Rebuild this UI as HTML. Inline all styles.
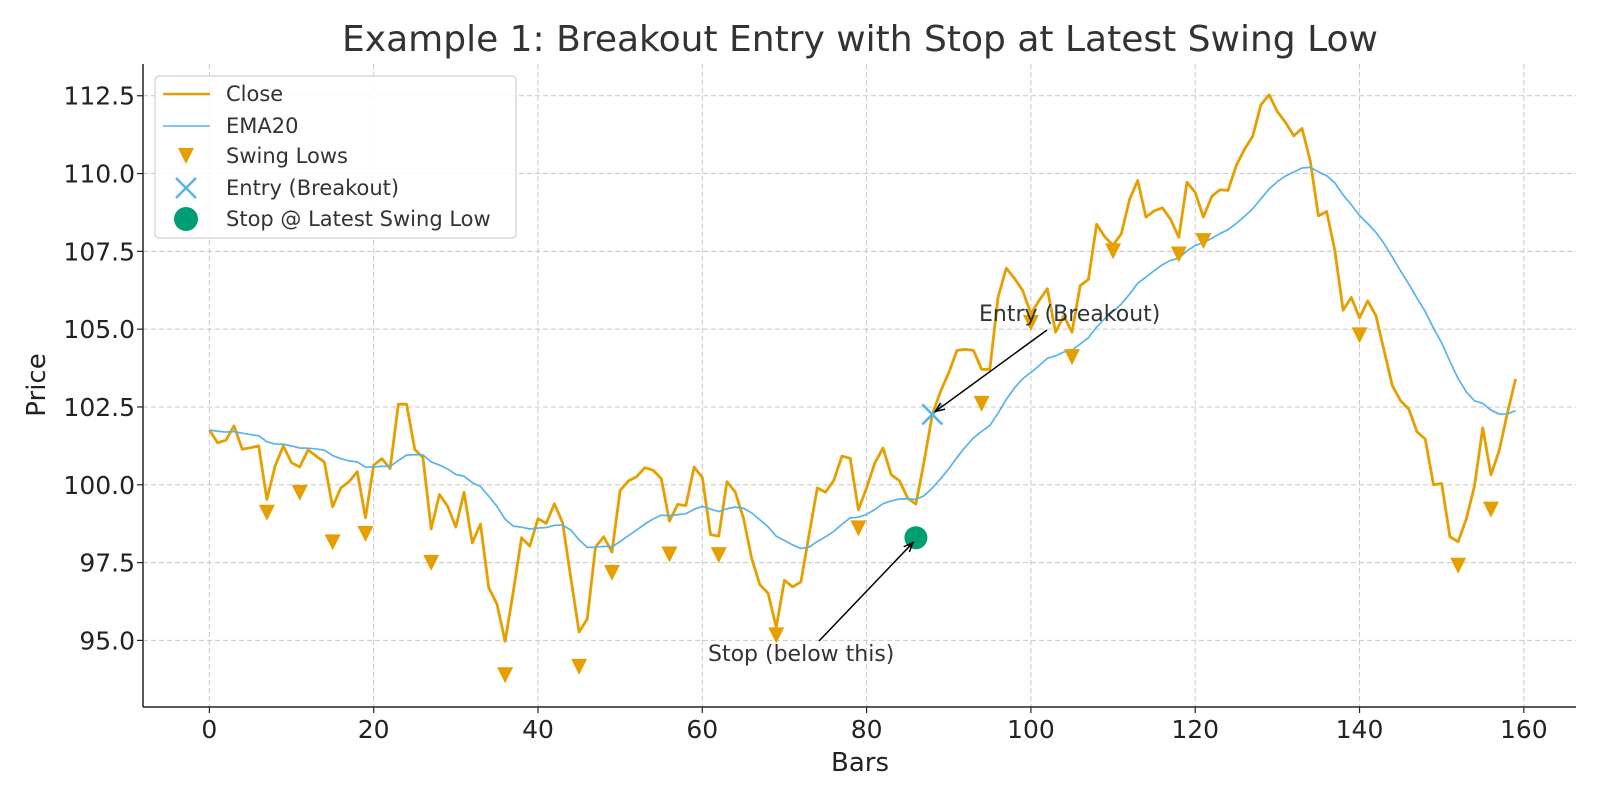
<!DOCTYPE html>
<html><head><meta charset="utf-8">
<style>
html,body{margin:0;padding:0;background:#fff;}
svg{display:block;font-family:"DejaVu Sans","Liberation Sans",sans-serif;}
</style></head>
<body>
<svg id="chart" width="1600" height="800" viewBox="0 0 1600 800" xmlns="http://www.w3.org/2000/svg">
<rect x="0" y="0" width="1600" height="800" fill="#fff"/>
<text x="860" y="51" font-size="36" fill="#333" text-anchor="middle">Example 1: Breakout Entry with Stop at Latest Swing Low</text>
<g id="grid"></g>
<g id="series"></g>
<g id="axes"></g>
<text x="860" y="771" font-size="26" fill="#222" text-anchor="middle">Bars</text>
<text x="45" y="385" font-size="26" fill="#222" text-anchor="middle" transform="rotate(-90 45 385)">Price</text>
</svg>
<script>
const closeValues=[101.76,101.35,101.43,101.89,101.14,101.19,101.25,99.53,100.6,101.25,
100.71,100.57,101.12,100.92,100.73,99.29,99.9,100.1,100.42,98.94,
100.63,100.84,100.52,102.59,102.59,101.14,100.87,98.58,99.69,99.31,
98.64,99.76,98.13,98.74,96.7,96.17,94.97,96.58,98.3,98.03,
98.91,98.76,99.39,98.78,97.0,95.27,95.69,98.0,98.33,97.84,
99.82,100.12,100.26,100.55,100.47,100.2,98.83,99.37,99.33,100.57,
100.23,98.4,98.35,100.1,99.77,98.94,97.65,96.79,96.52,95.42,
96.93,96.72,96.88,98.4,99.9,99.76,100.14,100.92,100.85,99.2,
99.9,100.7,101.18,100.32,100.13,99.57,99.38,100.75,102.26,103.0,
103.6,104.32,104.35,104.32,103.71,103.71,106.02,106.96,106.63,106.24,
105.49,105.92,106.3,104.9,105.43,104.9,106.4,106.6,108.37,107.96,
107.7,108.06,109.16,109.78,108.6,108.8,108.9,108.53,107.95,109.72,
109.39,108.6,109.26,109.48,109.46,110.26,110.78,111.2,112.21,112.53,
111.99,111.64,111.21,111.45,110.41,108.64,108.78,107.52,105.61,106.02,
105.36,105.91,105.43,104.3,103.18,102.7,102.43,101.7,101.47,100.0,
100.04,98.33,98.17,98.9,99.97,101.83,100.32,101.1,102.3,103.4];
const swingBars=[7,11,15,19,27,36,45,49,56,62,69,79,94,100,105,110,118,121,140,152,156];
const swingValues=[99.1,99.74,98.15,98.42,97.49,93.88,94.15,97.17,97.76,97.74,95.16,98.6,102.6,105.2,104.1,107.5,107.4,107.83,104.8,97.4,99.2];
const entryBar=[88], entryValue=[102.26];
const stopBar=[86], stopValue=[98.3];
const xTicks=[0,20,40,60,80,100,120,140,160];
const yTicks=[95.0,97.5,100.0,102.5,105.0,107.5,110.0,112.5];

const L=143,R=1576,T=64,B=707;
const xMin=-8.08,xMax=166.35,yMin=92.86,yMax=113.52;
function sx(v){return L+(v-xMin)/(xMax-xMin)*(R-L);}
function sy(v){return B-(v-yMin)/(yMax-yMin)*(B-T);}
const NS='http://www.w3.org/2000/svg';
function mk(tag,attrs,parent){const e=document.createElementNS(NS,tag);for(const k in attrs)e.setAttribute(k,attrs[k]);parent.appendChild(e);return e;}
const grid=document.getElementById('grid'),ser=document.getElementById('series'),axes=document.getElementById('axes');

xTicks.forEach(t=>{
 const g=mk('line',{x1:sx(t),x2:sx(t),y1:T,y2:B,stroke:'#c8c8c8','stroke-width':1,'stroke-dasharray':'5,3'},grid);
 
 
 const tk=mk('line',{x1:sx(t),x2:sx(t),y1:B,y2:B+6,stroke:'#222','stroke-width':1.2},axes);
 
 
 const lb=mk('text',{x:sx(t),y:B+31,'font-size':25,fill:'#222','text-anchor':'middle'},axes);
 lb.textContent=t;
 
 
});
yTicks.forEach(t=>{
 const g=mk('line',{x1:L,x2:R,y1:sy(t),y2:sy(t),stroke:'#c8c8c8','stroke-width':1,'stroke-dasharray':'5,3'},grid);
 
 
 const tk=mk('line',{x1:L-6,x2:L,y1:sy(t),y2:sy(t),stroke:'#222','stroke-width':1.2},axes);
 
 
 const lb=mk('text',{x:L-8,y:sy(t)+9,'font-size':25,fill:'#222','text-anchor':'end'},axes);
 lb.textContent=t.toFixed(1);
 
 
});
const ax1=mk('line',{x1:L,x2:L,y1:T,y2:B,stroke:'#222','stroke-width':1.5},axes);


const ax2=mk('line',{x1:L,x2:R,y1:B,y2:B,stroke:'#222','stroke-width':1.5},axes);



const alpha=2/21;const ema=[];closeValues.forEach((v,i)=>ema.push(i===0?v:alpha*v+(1-alpha)*ema[i-1]));
const closePath=mk('polyline',{points:closeValues.map((v,i)=>sx(i)+','+sy(v)).join(' '),fill:'none',stroke:'#E69F00','stroke-width':2.8,'stroke-linejoin':'round'},ser);


const emaPath=mk('polyline',{points:ema.map((v,i)=>sx(i)+','+sy(v)).join(' '),fill:'none',stroke:'#56B4E9','stroke-width':1.7,'stroke-linejoin':'round'},ser);



swingBars.forEach((b,i)=>{
 const x=sx(b),y=sy(swingValues[i]);
 const p=mk('polygon',{points:`${x-8},${y-8} ${x+8},${y-8} ${x},${y+8}`,fill:'#E69F00'},ser);
 
 
});
entryBar.forEach((b,i)=>{
 const x=sx(b),y=sy(entryValue[i]);
 const g=mk('path',{d:`M${x-10},${y-10}L${x+10},${y+10}M${x-10},${y+10}L${x+10},${y-10}`,stroke:'#56B4E9','stroke-width':2.5,fill:'none'},ser);
 
 
});
stopBar.forEach((b,i)=>{
 const c=mk('circle',{cx:sx(b),cy:sy(stopValue[i]),r:11.5,fill:'#009E73'},ser);
 
 
});

function arrow(x1,y1,x2,y2,name){
 const g=mk('g',{},ser);
 
 
 mk('line',{x1:x1,y1:y1,x2:x2,y2:y2,stroke:'#000','stroke-width':1.5},g);
 const a=Math.atan2(y2-y1,x2-x1),h=10;
 const p1=[x2-h*Math.cos(a-0.4),y2-h*Math.sin(a-0.4)],p2=[x2-h*Math.cos(a+0.4),y2-h*Math.sin(a+0.4)];
 mk('polyline',{points:`${p1} ${x2},${y2} ${p2}`,fill:'none',stroke:'#000','stroke-width':1.5},g);
}
arrow(1047,330,sx(entryBar[0])+3,sy(entryValue[0])-3,'entry-arrow');
arrow(819,641,sx(stopBar[0])-3,sy(stopValue[0])+5,'stop-arrow');
const et=mk('text',{x:979,y:321,'font-size':22,fill:'#333'},ser);
et.textContent='Entry (Breakout)';


const st=mk('text',{x:708,y:661,'font-size':22,fill:'#333'},ser);
st.textContent='Stop (below this)';



const lg=mk('g',{},ser);


mk('rect',{x:155,y:76,width:361,height:162,rx:4,fill:'#fff','fill-opacity':0.85,stroke:'#d0d0d0','stroke-width':1.2},lg);
const rows=[94,126,156,188,219];
const labels=['Close','EMA20','Swing Lows','Entry (Breakout)','Stop @ Latest Swing Low'];
mk('line',{x1:163,x2:210,y1:rows[0],y2:rows[0],stroke:'#E69F00','stroke-width':2.6},lg);
mk('line',{x1:163,x2:210,y1:rows[1],y2:rows[1],stroke:'#56B4E9','stroke-width':1.6},lg);
mk('polygon',{points:`178,${rows[2]-8} 194,${rows[2]-8} 186,${rows[2]+8}`,fill:'#E69F00'},lg);
mk('path',{d:`M176,${rows[3]-10}L196,${rows[3]+10}M176,${rows[3]+10}L196,${rows[3]-10}`,stroke:'#56B4E9','stroke-width':2.5},lg);
mk('circle',{cx:186,cy:rows[4],r:12,fill:'#009E73'},lg);
labels.forEach((t,i)=>{
 const tx=mk('text',{x:226,y:rows[i]+7,'font-size':21,fill:'#333'},lg);
 tx.textContent=t;
 
 
});
</script>
</body></html>
